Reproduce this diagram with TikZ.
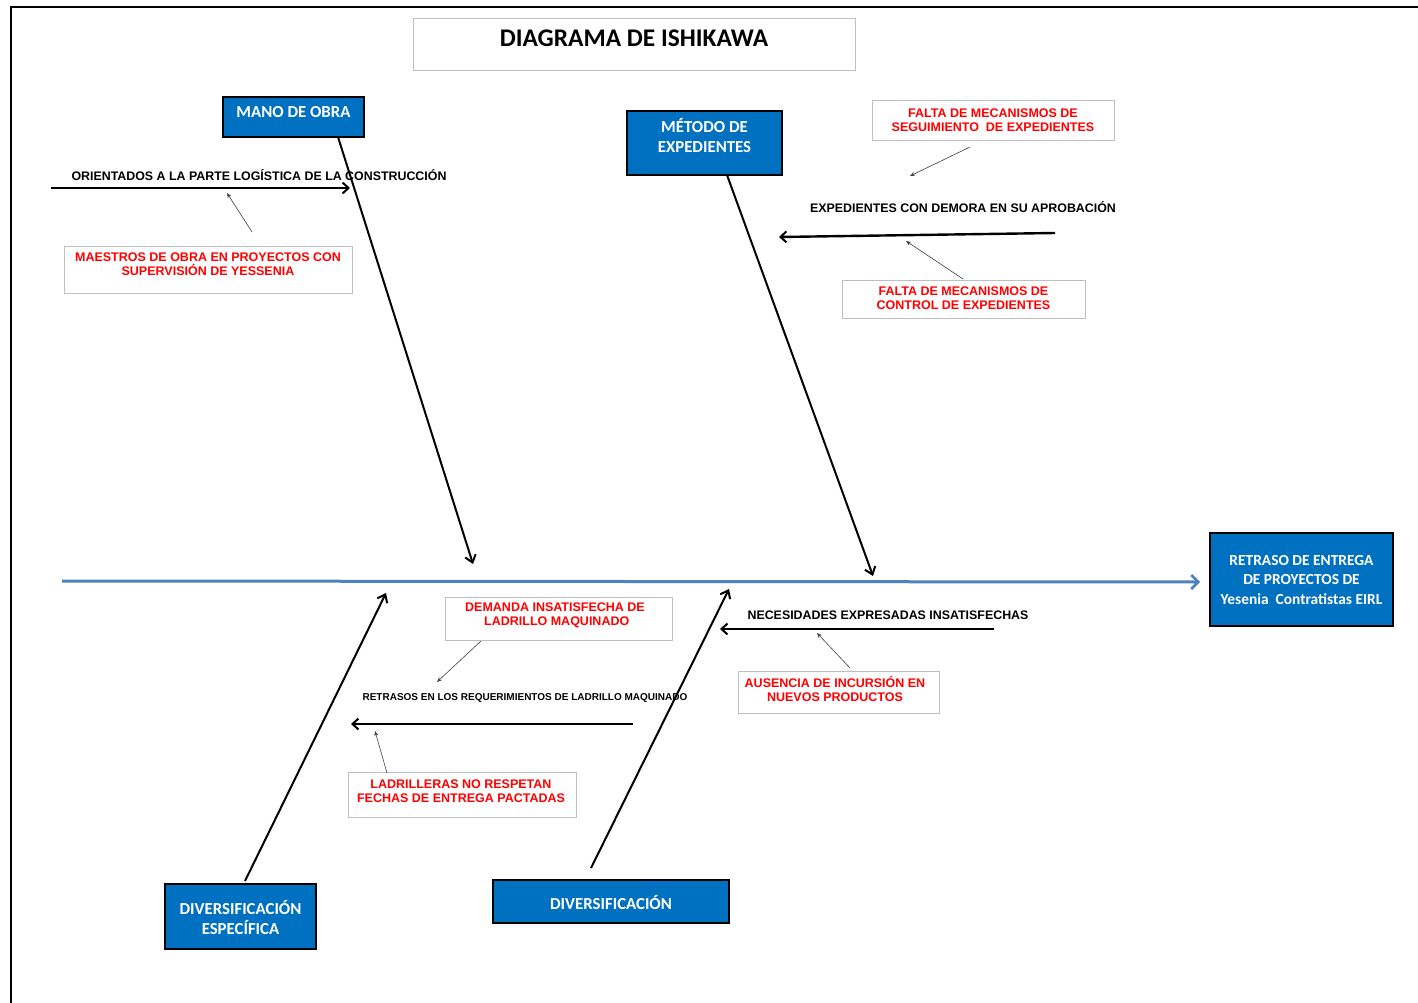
\documentclass[tikz,border=0pt]{standalone}
\usepackage{fontspec}
\setmainfont{Liberation Sans}
\newfontfamily\calibri{Carlito}
\usetikzlibrary{arrows.meta}
\definecolor{boxblue}{HTML}{0070C0}
\definecolor{spineblue}{HTML}{4F81BD}
\definecolor{frameline}{HTML}{BFBFBF}
\definecolor{causered}{HTML}{FF0000}
\tikzset{
  bluebox/.style={draw=black, line width=2.4pt, fill=boxblue, inner sep=0pt},
  bluetext/.style={text=white, font=\calibri\bfseries\fontsize{16.8}{20}\selectfont, align=center, inner sep=0pt},
  causebox/.style={draw=frameline, line width=1pt, fill=white, inner sep=0pt},
  causetext/.style={text=causered, font=\bfseries\fontsize{12.5}{14}\selectfont, align=center, inner sep=0pt},
  subtext/.style={text=black, font=\bfseries\fontsize{12.4}{14}\selectfont, inner sep=0pt},
  bone/.style={draw=black, line width=2pt, -{Straight Barb[length=7pt,width=11pt,line width=2pt]}},
  subbone/.style={draw=black, line width=2.4pt, -{Straight Barb[length=6pt,width=11pt,line width=2pt]}},
  pointer/.style={draw=black!75, line width=0.6pt, -{Stealth[length=5pt,width=4pt]}},
  spine/.style={draw=spineblue, line width=3pt, -{Straight Barb[length=7pt,width=14pt,line width=2.5pt]}}
}
\begin{document}
\begin{tikzpicture}[x=1pt, y=-1pt]
\useasboundingbox (0,0) rectangle (1418,1003);
\fill[white] (0,0) rectangle (1418,1003);
% page frame
\draw[black, line width=2pt] (11,1003) -- (11,7) -- (1418,7);

% title
\node[causebox, minimum width=442, minimum height=52] (title) at (634,45) {};
\node[font=\calibri\bfseries\fontsize{25.4}{28}\selectfont, inner sep=0pt] (titletext) at (634,38) {DIAGRAMA DE ISHIKAWA};

% effect and spine
\node[bluebox, minimum width=183, minimum height=93] (effect) at (1301.5,579.5) {};
\node[bluetext, font=\calibri\bfseries\fontsize{15.4}{19.5}\selectfont] (effecttext) at (1301.5,580) {RETRASO DE ENTREGA\\DE PROYECTOS DE\\Yesenia\ \ Contratistas EIRL};
\coordinate (tail) at (62,581);
\coordinate (head) at (1200,582);
\draw[spine] (tail) -- (head);

% main categories
\node[bluebox, minimum width=141, minimum height=40] (mano) at (293.5,117) {};
\node[bluetext] (manotext) at (293.5,112) {MANO DE OBRA};
\node[bluebox, minimum width=155, minimum height=64] (metodo) at (704.5,143) {};
\node[bluetext] (metodotext) at (704.5,136) {MÉTODO DE\\EXPEDIENTES};
\node[bluebox, minimum width=151, minimum height=65] (divesp) at (240.5,916.5) {};
\node[bluetext] (divesptext) at (240.5,917) {DIVERSIFICACIÓN\\ESPECÍFICA};
\node[bluebox, minimum width=236, minimum height=43] (div) at (611,901.5) {};
\node[bluetext] (divtext) at (611,902) {DIVERSIFICACIÓN};

% bones
\coordinate (manofoot) at (338,137);
\coordinate (manotip) at (473,564);
\coordinate (metodofoot) at (727,175);
\coordinate (metodotip) at (873,576);
\coordinate (divespfoot) at (245,881);
\coordinate (divesptip) at (386,593);
\coordinate (divfoot) at (591,868);
\coordinate (divtip) at (729,589);
\draw[bone] (manofoot) -- (manotip);
\draw[bone] (metodofoot) -- (metodotip);
\draw[bone] (divespfoot) -- (divesptip);
\draw[bone] (divfoot) -- (divtip);

% mano de obra: sub-cause
\node[subtext] (orient) at (259,175) {ORIENTADOS A LA PARTE LOGÍSTICA DE LA CONSTRUCCIÓN};
\coordinate (orientA) at (51,188);
\coordinate (orientB) at (350,188);
\draw[subbone] (orientA) -- (orientB);
\node[causebox, minimum width=288, minimum height=47] (maestros) at (208,269.5) {};
\node[causetext] (maestrostext) at (208,264) {MAESTROS DE OBRA EN PROYECTOS CON\\SUPERVISIÓN DE YESSENIA};
\coordinate (maestrosP) at (252,232);
\coordinate (maestrosQ) at (227,193);
\draw[pointer] (maestrosP) -- (maestrosQ);

% metodo: sub-cause
\node[causebox, minimum width=242, minimum height=40] (seguim) at (993,121) {};
\node[causetext] (seguimtext) at (993,120) {FALTA DE MECANISMOS DE\\SEGUIMIENTO\ \ DE EXPEDIENTES};
\coordinate (seguimP) at (970,147);
\coordinate (seguimQ) at (910,176);
\draw[pointer] (seguimP) -- (seguimQ);
\node[subtext] (demora) at (963,207) {EXPEDIENTES CON DEMORA EN SU APROBACIÓN};
\coordinate (demoraA) at (1055,233);
\coordinate (demoraB) at (779,237);
\draw[subbone] (demoraA) -- (demoraB);
\node[causebox, minimum width=243, minimum height=38] (control) at (963.5,299) {};
\node[causetext] (controltext) at (963.5,298) {FALTA DE MECANISMOS DE\\CONTROL DE EXPEDIENTES};
\coordinate (controlP) at (963,279);
\coordinate (controlQ) at (906,241);
\draw[pointer] (controlP) -- (controlQ);

% diversificacion especifica: sub-cause
\node[causebox, minimum width=227, minimum height=43] (demanda) at (558.5,618.5) {};
\node[causetext] (demandatext) at (555,615) {DEMANDA INSATISFECHA DE\\ \ LADRILLO MAQUINADO};
\coordinate (demandaP) at (481,641);
\coordinate (demandaQ) at (437,682);
\draw[pointer] (demandaP) -- (demandaQ);
\node[subtext, font=\bfseries\fontsize{10}{12}\selectfont] (retrasos) at (525,698) {RETRASOS EN LOS REQUERIMIENTOS DE LADRILLO MAQUINADO};
\coordinate (retrasosA) at (633,724);
\coordinate (retrasosB) at (351,724);
\draw[subbone] (retrasosA) -- (retrasosB);
\node[causebox, minimum width=228, minimum height=45] (ladrill) at (462,794.5) {};
\node[causetext] (ladrilltext) at (461,791) {LADRILLERAS NO RESPETAN\\FECHAS DE ENTREGA PACTADAS};
\coordinate (ladrillP) at (387,773);
\coordinate (ladrillQ) at (375,731);
\draw[pointer] (ladrillP) -- (ladrillQ);

% diversificacion: sub-cause
\node[subtext] (necesid) at (888,615) {NECESIDADES EXPRESADAS INSATISFECHAS};
\coordinate (necesidA) at (994,629);
\coordinate (necesidB) at (720,629);
\draw[subbone] (necesidA) -- (necesidB);
\node[causebox, minimum width=201, minimum height=42] (ausencia) at (838.5,692) {};
\node[causetext] (ausenciatext) at (835,689) {AUSENCIA DE INCURSIÓN EN\\NUEVOS PRODUCTOS};
\coordinate (ausenciaP) at (850,668);
\coordinate (ausenciaQ) at (817,633);
\draw[pointer] (ausenciaP) -- (ausenciaQ);
\end{tikzpicture}
\end{document}
